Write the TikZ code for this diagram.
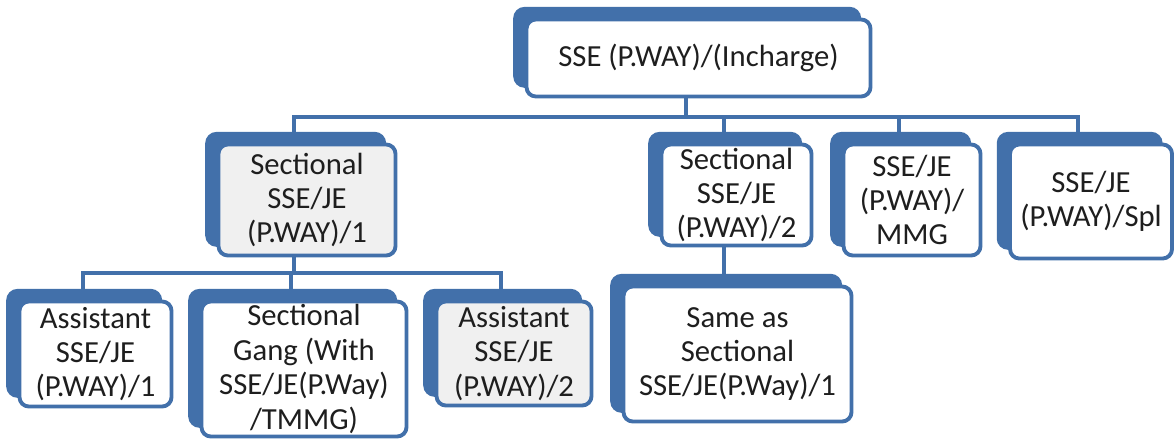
\documentclass[tikz,border=0pt]{standalone}
\usepackage{fontspec}
\setmainfont{Carlito}
\usetikzlibrary{shadows}
\definecolor{bblue}{RGB}{66,112,170}
\definecolor{tgray}{RGB}{30,30,30}
\tikzset{
  card/.style={draw=bblue, line width=2.9pt, fill=white, rounded corners=7pt,
    copy shadow={shadow xshift=-8.5pt, shadow yshift=8pt, fill=bblue, draw=bblue},
    align=center, inner sep=0pt, text=tgray,
    font=\fontsize{23}{25.8}\selectfont},
  graycard/.style={card, fill=black!6},
  conn/.style={draw=bblue, line width=3pt}
}
\begin{document}
\begin{tikzpicture}[x=0.75pt, y=-0.75pt]
\useasboundingbox (0,0) rectangle (1176,445);
% bus levels
\coordinate (bus1) at (0,117);
\coordinate (bus2) at (0,273);
% boxes
\node[card, minimum width=344*0.75pt, minimum height=77*0.75pt] (top) at (698.5,58) {SSE (P.WAY)/(Incharge)};
\node[graycard, minimum width=177*0.75pt, minimum height=111*0.75pt] (sec1) at (307,200) {Sectional\\SSE/JE\\(P.WAY)/1};
\node[card, minimum width=150*0.75pt, minimum height=101*0.75pt] (sec2) at (736.5,195) {Sectional\\SSE/JE\\(P.WAY)/2};
\node[card, minimum width=137*0.75pt, minimum height=111*0.75pt] (mmg) at (912,200) {SSE/JE\\(P.WAY)/\\MMG};
\node[card, minimum width=162*0.75pt, minimum height=114*0.75pt] (spl) at (1091,201.5) {SSE/JE\\(P.WAY)/Spl};
\node[card, minimum width=152*0.75pt, minimum height=105*0.75pt] (asst1) at (95.5,354) {Assistant\\SSE/JE\\(P.WAY)/1};
\node[card, minimum width=205*0.75pt, minimum height=135*0.75pt] (gang) at (304,369) {Sectional\\Gang (With\\SSE/JE(P.Way)\\/TMMG)};
\node[graycard, minimum width=155*0.75pt, minimum height=104*0.75pt] (asst2) at (514,353.5) {Assistant\\SSE/JE\\(P.WAY)/2};
\node[card, minimum width=228*0.75pt, minimum height=135*0.75pt] (same) at (737.5,354) {Same as\\Sectional\\SSE/JE(P.Way)/1};
% connector end points
\coordinate (top-b) at ([xshift=-9.5pt]top.south);
\coordinate (sec1-b) at ([xshift=-9.5pt]sec1.south);
\coordinate (sec2-b) at ([xshift=-9.5pt]sec2.south);
\foreach \n in {sec1,sec2,mmg,spl,asst1,gang,asst2,same}
  \coordinate (\n-t) at ([xshift=-9.5pt,yshift=8pt]\n.north);
% connectors
\foreach \c in {sec1,sec2,mmg,spl}
  \draw[conn] (top-b) -- (top-b |- bus1) -| (\c-t);
\foreach \c in {asst1,gang,asst2}
  \draw[conn] (sec1-b) -- (sec1-b |- bus2) -| (\c-t);
\draw[conn] (sec2-b) -- (sec2-b |- same-t);
\end{tikzpicture}
\end{document}
